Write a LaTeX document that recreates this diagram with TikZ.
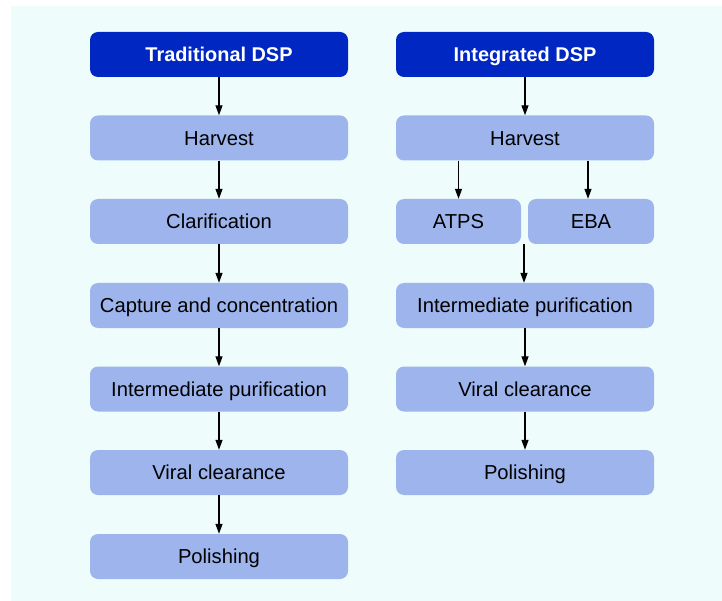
\documentclass[tikz,border=0pt]{standalone}
\usepackage{fontspec}
\setmainfont{Liberation Sans}
\usetikzlibrary{arrows.meta}
\definecolor{panelbg}{HTML}{EEFDFC}
\definecolor{headblue}{HTML}{0027C2}
\definecolor{stepblue}{HTML}{9DB5EC}
\begin{document}
\begin{tikzpicture}[x=1pt,y=-1pt,
  boxbase/.style={rounded corners=8pt, inner sep=0pt, text height=14.6pt, text depth=0pt, minimum height=45pt},
  stepbox/.style={boxbase, fill=stepblue, font=\fontsize{20.2}{23}\selectfont, text=black},
  headbox/.style={boxbase, fill=headblue, font=\fontsize{19.9}{23}\selectfont\bfseries, text=white},
  flow/.style={-{Triangle[length=10pt,width=7pt]}, line width=1.3pt, black}]
\useasboundingbox (0,0) rectangle (722,601);
\fill[white] (0,0) rectangle (722,601);
\fill[panelbg] (11,6) rectangle (722,601);

% Traditional DSP column
\node[headbox, minimum width=258pt] (th) at (219,54.5) {Traditional DSP};
\node[stepbox, minimum width=258pt] (t1) at (219,138) {Harvest};
\node[stepbox, minimum width=258pt] (t2) at (219,221.5) {Clarification};
\node[stepbox, minimum width=258pt] (t3) at (219,305.5) {Capture and concentration};
\node[stepbox, minimum width=258pt] (t4) at (219,389) {Intermediate purification};
\node[stepbox, minimum width=258pt] (t5) at (219,472.5) {Viral clearance};
\node[stepbox, minimum width=258pt] (t6) at (219,556.5) {Polishing};

\draw[flow] (th) -- (t1);
\draw[flow] (t1) -- (t2);
\draw[flow] (t2) -- (t3);
\draw[flow] (t3) -- (t4);
\draw[flow] (t4) -- (t5);
\draw[flow] (t5) -- (t6);

% Integrated DSP column
\node[headbox, minimum width=258pt] (ih) at (525,54.5) {Integrated DSP};
\node[stepbox, minimum width=258pt] (i1) at (525,138) {Harvest};
\node[stepbox, minimum width=125pt] (ia) at (458.5,221.5) {ATPS};
\node[stepbox, minimum width=126pt] (ib) at (591,221.5) {EBA};
\node[stepbox, minimum width=258pt] (i3) at (525,305.5) {Intermediate purification};
\node[stepbox, minimum width=258pt] (i4) at (525,389) {Viral clearance};
\node[stepbox, minimum width=258pt] (i5) at (525,472.5) {Polishing};

\draw[flow] (ih) -- (i1);
\draw[flow] (i1.south -| ia) -- (ia);
\draw[flow] (i1.south -| 588,0) -- (ib.north -| 588,0);
\coordinate (join) at (524,244);
\draw[flow] (join) -- (i3.north -| join);
\draw[flow] (i3) -- (i4);
\draw[flow] (i4) -- (i5);
\end{tikzpicture}
\end{document}
